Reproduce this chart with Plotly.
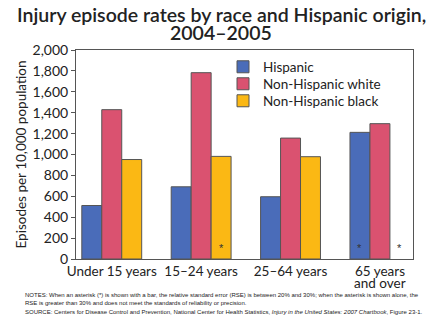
import plotly.graph_objects as go

categories = ["Under 15 years", "15\u201324 years", "25\u201364 years", "65 years"]
category_second_line = ["", "", "", "and over"]
series_names = ["Hispanic", "Non-Hispanic white", "Non-Hispanic black"]
hispanic = [512, 691, 596, 1212]
nh_white = [1429, 1783, 1157, 1295]
nh_black = [952, 982, 979, None]
# asterisks: (category index, series index)
asterisks = [(1, 2), (3, 0), (3, 2)]
y_ticks = list(range(0, 2001, 200))
title_lines = ["Injury episode rates by race and Hispanic origin,", "2004\u20132005"]

colors = ["#4A6CB9", "#DA5270", "#FBB814"]
values = [hispanic, nh_white, nh_black]

bargap = 0.33
n_series = len(series_names)
bw = (1 - bargap) / n_series
xpos = list(range(len(categories)))

# plot area in pixels
L, R, T, B = 76, 413, 50, 259
W, H = R - L, B - T

fig = go.Figure()
legend_ids = ["legend", "legend2", "legend3"]
for i, (name, vals, col) in enumerate(zip(series_names, values, colors)):
    fig.add_trace(go.Bar(
        x=xpos, y=vals, name=name, legend=legend_ids[i],
        marker=dict(color=col, line=dict(color="#555555", width=1)),
    ))

for ci, si in asterisks:
    fig.add_annotation(
        x=ci + (si - (n_series - 1) / 2) * bw, y=110, text="*",
        showarrow=False, xref="x", yref="y",
        font=dict(size=11, color="#333333", family="Liberation Sans"),
    )

# second line of category labels (tight leading as in the reference)
for xi, txt in zip(xpos, category_second_line):
    if txt:
        fig.add_annotation(x=xi, y=(B - 283) / H, xref="x", yref="paper", text=txt,
                           showarrow=False, yanchor="middle", borderpad=0,
                           font=dict(size=13.5, family="Lato", color="#222222"))

# title lines
for ypx, txt in zip([15, 32], title_lines):
    fig.add_annotation(x=(221 - L) / W, y=(B - ypx) / H, xref="paper", yref="paper",
                       text=txt, showarrow=False, yanchor="middle", xanchor="center",
                       borderpad=0,
                       font=dict(family="Lato", size=19.5, color="#222222", weight=600))

notes = ("NOTES: When an asterisk (*) is shown with a bar, the relative standard error (RSE) is between 20% and 30%; when the asterisk is shown alone, the<br>"
         "RSE is greater than 30% and does not meet the standards of reliability or precision.")
source = ("SOURCE: Centers for Disease Control and Prevention, National Center for Health Statistics, "
          "<i>Injury in the United States: 2007 Chartbook</i>, Figure 23-1.")
fig.add_annotation(x=(23 - L) / W, y=(B - 290) / H, xref="paper", yref="paper", text=notes,
                   showarrow=False, xanchor="left", yanchor="top", align="left",
                   font=dict(size=6, family="Liberation Sans", color="#222222"))
fig.add_annotation(x=(23 - L) / W, y=(B - 307) / H, xref="paper", yref="paper",
                   text=source, showarrow=False, xanchor="left", yanchor="top", align="left",
                   font=dict(size=6, family="Liberation Sans", color="#222222"))

legend_rows = [67, 84, 101]
leg_common = dict(xanchor="left", yanchor="middle", bgcolor="rgba(0,0,0,0)",
                  font=dict(size=13.5, family="Lato", color="#222222"), itemwidth=30)
layout_legends = {}
for lid, ypx in zip(legend_ids, legend_rows):
    layout_legends[lid] = dict(x=(223 - L) / W, y=(B - ypx) / H, **leg_common)

fig.update_layout(
    width=440, height=330,
    margin=dict(l=L, r=440 - R, t=T, b=330 - B),
    paper_bgcolor="white", plot_bgcolor="white",
    barmode="group", bargap=bargap, bargroupgap=0,
    font=dict(family="Lato", size=14, color="#222222"),
    showlegend=True,
    xaxis=dict(tickmode="array", tickvals=xpos, ticktext=categories, tickangle=0,
               range=[-0.4, 3.37], showline=True, linecolor="#555555", mirror=True,
               ticks="", showgrid=False, zeroline=False, tickfont=dict(size=13.5)),
    yaxis=dict(range=[0, 2000], tickvals=y_ticks, tickformat=",d",
               showline=True, linecolor="#555555", mirror=True,
               ticks="outside", ticklen=4, tickcolor="#555555",
               showgrid=False, zeroline=False, tickfont=dict(size=14),
               title=dict(text="Episodes per 10,000 population", font=dict(size=13.5), standoff=2)),
    **layout_legends,
)

fig.write_html("out.html")
